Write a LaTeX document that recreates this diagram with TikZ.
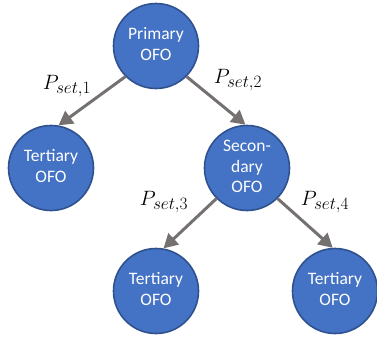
\documentclass[tikz,border=0pt]{standalone}
\usepackage{fontspec}
\setmainfont{Carlito}
\usetikzlibrary{arrows.meta}
\definecolor{nodeblue}{RGB}{68,114,196}
\definecolor{nodeedge}{RGB}{47,82,143}
\definecolor{arrgray}{RGB}{118,113,113}
\newcommand\ctxt[1]{\raisebox{-7pt}{\begin{tabular}{@{}c@{}}#1\end{tabular}}}
\newcommand\pset[1]{$P_{\mbox{\fontsize{16}{18}\selectfont$set{,}#1$}}$}
\begin{document}
\begin{tikzpicture}[x=1pt,y=-1pt,
  ofo/.style={circle,fill=nodeblue,draw=nodeedge,line width=1.6pt,minimum size=85pt,inner sep=0pt,
    text=white,font=\fontsize{17.5}{20.5}\selectfont},
  arr/.style={draw=arrgray,line width=3pt,-{Triangle[length=14pt,width=15pt]}},
  lbl/.style={font=\fontsize{21}{25}\selectfont,inner sep=0pt}]
\useasboundingbox (0,0) rectangle (377,341);
\node[ofo] (p) at (156,46) {\ctxt{Primary\\OFO}};
\node[ofo] (t1) at (51,168) {\ctxt{Tertiary\\OFO}};
\node[ofo] (s) at (247,168) {\ctxt{Secon-\\dary\\OFO}};
\node[ofo] (t3) at (156,291) {\ctxt{Tertiary\\OFO}};
\node[ofo] (t4) at (335,291) {\ctxt{Tertiary\\OFO}};
\draw[arr] (p.south west) -- (t1.80);
\draw[arr] (p.south east) -- (s.92);
\draw[arr] (s.south west) -- (t3.80);
\draw[arr] (s.south east) -- (t4.93);
\node[lbl] (l1) at (67,86) {\pset{1}};
\node[lbl] (l2) at (238,80) {\pset{2}};
\node[lbl] (l3) at (164,202) {\pset{3}};
\node[lbl] (l4) at (325,202) {\pset{4}};
\end{tikzpicture}
\end{document}
